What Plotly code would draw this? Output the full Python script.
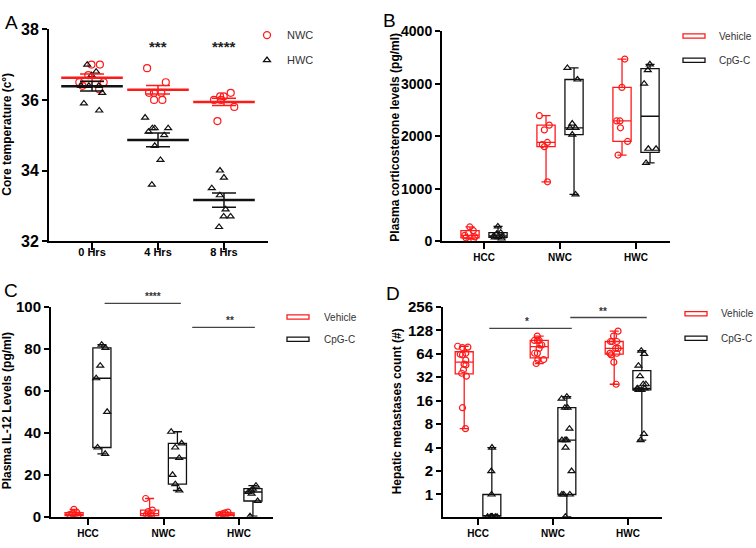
import numpy as np
import plotly.graph_objects as go

RED = "#FF1A1A"
BLACK = "#111111"
FONT = "Liberation Sans, Arial, sans-serif"

# ---------------- Panel A: core temperature ----------------
time_points = ["0 Hrs", "4 Hrs", "8 Hrs"]
nwc_0h = [37.0, 37.0, 36.7, 36.5, 36.5, 36.4, 36.3]
nwc_4h = [36.9, 36.5, 36.2, 36.2, 36.2, 36.0, 36.0]
nwc_8h = [36.2, 36.1, 36.1, 36.0, 36.0, 35.8, 35.4]
hwc_0h = [37.0, 36.8, 36.7, 36.4, 36.4, 36.4, 36.2, 35.9, 35.7]
hwc_4h = [35.5, 35.2, 35.2, 35.2, 35.1, 35.0, 34.7, 34.3, 33.6]
hwc_8h = [34.0, 33.8, 33.5, 33.3, 32.9, 32.7, 32.7, 32.4]
a_sig_labels = ["", "***", "****"]

# ---------------- Panel B: corticosterone ----------------
groups = ["HCC", "NWC", "HWC"]
treatments = ["Vehicle", "CpG-C"]
cort_hcc_veh = [270, 200, 150, 110, 80, 60, 40]
cort_hcc_cpg = [280, 160, 140, 100, 90, 70, 50]
cort_nwc_veh = [2390, 2210, 2120, 1880, 1840, 1800, 1130]
cort_nwc_cpg = [3300, 3080, 2240, 2160, 2160, 2030, 890]
cort_hwc_veh = [3470, 2930, 2290, 2290, 2160, 1900, 1640]
cort_hwc_cpg = [3370, 3260, 3000, 1760, 1760, 1490]

# ---------------- Panel C: IL-12 ----------------
il12_hcc_veh = [3.5, 2.0, 1.5, 1.0, 0.8, 0.5, 0.3]
il12_hcc_cpg = [82, 80.5, 72, 66, 50, 33, 30]
il12_nwc_veh = [8.7, 3.2, 2.5, 1.5, 1.0, 0.5, 0.3]
il12_nwc_cpg = [40.5, 35, 33, 28, 20, 15.5, 12.5]
il12_hwc_veh = [2.2, 1.8, 1.5, 1.0, 0.8, 0.5, 0.3]
il12_hwc_cpg = [14.8, 13.4, 12.5, 11.8, 11.0, 7.5, 0.3]

# ---------------- Panel D: hepatic metastases ----------------
met_hcc_veh = [80, 78, 77, 65, 63, 62, 53, 47, 46, 40, 36, 33, 13, 7]
met_hcc_cpg = [4, 2, 1, 0, 0, 0, 0, 0, 0, 0, 0]
met_nwc_veh = [108, 95, 95, 95, 83, 83, 75, 65, 65, 54, 54, 48]
met_nwc_cpg = [18, 17, 13, 13, 7, 5, 5, 5, 4, 2, 1, 1, 1, 0]
met_hwc_veh = [125, 108, 92, 92, 92, 75, 75, 65, 65, 65, 62, 50, 26]
met_hwc_cpg = [70, 64, 45, 33, 26, 26, 23, 23, 23, 22, 22, 6, 5]
met_ticks = [1, 2, 4, 8, 16, 32, 64, 128, 256]
D_FLOOR = -0.95  # log2 axis bottom, where zero counts sit


def to_log2(vals):
    v = np.asarray(vals, dtype=float)
    out = np.full(v.shape, D_FLOOR)
    pos = v > 0
    out[pos] = np.log2(v[pos])
    return out


def box_stats(datasets, transform=None):
    st = {"q1": [], "median": [], "q3": [], "lowerfence": [], "upperfence": []}
    for d in datasets:
        d = np.asarray(d, dtype=float)
        vals = [np.percentile(d, 25, method="weibull"), np.median(d),
                np.percentile(d, 75, method="weibull"), d.min(), d.max()]
        if transform is not None:
            vals = list(transform(vals))
        for k, v in zip(["q1", "median", "q3", "lowerfence", "upperfence"], vals):
            st[k].append(float(v))
    return st


fig = go.Figure()


def styled_box(datasets, xa, ya, group, color, name, transform=None):
    st = box_stats(datasets, transform)
    fig.add_trace(go.Box(
        x=groups, q1=st["q1"], median=st["median"], q3=st["q3"],
        lowerfence=st["lowerfence"], upperfence=st["upperfence"],
        xaxis=xa, yaxis=ya, offsetgroup=group, boxpoints=False,
        line=dict(color=color, width=1.3), fillcolor="rgba(0,0,0,0)",
        whiskerwidth=0.5, name=name, showlegend=False, hoverinfo="skip"))


def point_box(cats, datasets, xa, ya, group, color, symbol, jitter, size=6, transform=None):
    xs, ys = [], []
    for c, d in zip(cats, datasets):
        yv = list(transform(d)) if transform is not None else list(d)
        xs += [c] * len(yv)
        ys += yv
    fig.add_trace(go.Box(
        x=xs, y=ys, xaxis=xa, yaxis=ya, offsetgroup=group,
        boxpoints="all", jitter=jitter, pointpos=0,
        line=dict(width=0, color=color), fillcolor="rgba(0,0,0,0)",
        marker=dict(symbol=symbol, size=size, color=color, line=dict(width=1.2, color=color)),
        showlegend=False, hoverinfo="skip"))


# ---- Panel A
nwc_all = [nwc_0h, nwc_4h, nwc_8h]
hwc_all = [hwc_0h, hwc_4h, hwc_8h]
point_box(time_points, nwc_all, "x", "y", "A", RED, "circle-open", 0.95, size=7)
point_box(time_points, hwc_all, "x", "y", "A", BLACK, "triangle-up-open", 0.95, size=6)
for data, color in [(nwc_all, RED), (hwc_all, BLACK)]:
    means = [float(np.mean(d)) for d in data]
    sems = [float(np.std(d, ddof=1) / np.sqrt(len(d))) for d in data]
    fig.add_trace(go.Scatter(
        x=time_points, y=means, xaxis="x", yaxis="y", mode="markers",
        marker=dict(symbol="line-ew-open", size=44, color=color, line=dict(color=color, width=2.5)),
        error_y=dict(type="data", array=sems, color=color, thickness=1.5, width=12),
        showlegend=False, hoverinfo="skip"))
for name, color, sym, sz in [("NWC", RED, "circle-open", 7), ("HWC", BLACK, "triangle-up-open", 6)]:
    fig.add_trace(go.Scatter(
        x=[None], y=[None], xaxis="x", yaxis="y", mode="markers", name=name,
        marker=dict(symbol=sym, size=sz, color=color, line=dict(width=1.3, color=color)),
        legendgroup="A" + name, showlegend=True))

# ---- Panels B, C, D
panels = [
    ("x2", "y2", [cort_hcc_veh, cort_nwc_veh, cort_hwc_veh],
     [cort_hcc_cpg, cort_nwc_cpg, cort_hwc_cpg], None),
    ("x3", "y3", [il12_hcc_veh, il12_nwc_veh, il12_hwc_veh],
     [il12_hcc_cpg, il12_nwc_cpg, il12_hwc_cpg], None),
    ("x4", "y4", [met_hcc_veh, met_nwc_veh, met_hwc_veh],
     [met_hcc_cpg, met_nwc_cpg, met_hwc_cpg], to_log2),
]
for xa, ya, veh, cpg, tf in panels:
    point_box(groups, veh, xa, ya, "veh", RED, "circle-open", 0.75, size=6, transform=tf)
    point_box(groups, cpg, xa, ya, "cpg", BLACK, "triangle-up-open", 0.75, size=6, transform=tf)
    styled_box(veh, xa, ya, "veh", RED, treatments[0], transform=tf)
    styled_box(cpg, xa, ya, "cpg", BLACK, treatments[1], transform=tf)

W, H = 756, 548


def px_x(p):
    return p / W


def px_y(p):
    return 1 - p / H


axis_common = dict(showline=True, linewidth=2, linecolor="black", ticks="outside",
                   tickwidth=2, tickcolor="black", showgrid=False, zeroline=False,
                   fixedrange=True)
bold = dict(family=FONT, color="black", weight="bold")

# subplot geometry (pixel domains and axis ranges)
geo = {
    "x": ([49, 268], [-0.652, 2.667]),
    "x2": ([442, 670], [-0.553, 2.447]),
    "x3": ([51, 273], [-0.49, 2.45]),
    "x4": ([443, 662], [-0.467, 2.453]),
    "y": ([240, 21], [32, 38]),
    "y2": ([240, 23], [0, 4000]),
    "y3": ([525, 308], [0, 100]),
    "y4": ([525, 308], [D_FLOOR, 8]),
}


def dom_x(k):
    return [px_x(geo[k][0][0]), px_x(geo[k][0][1])]


def dom_y(k):
    return [px_y(geo[k][0][0]), px_y(geo[k][0][1])]


def to_paper(axis, v):
    (p0, p1), (r0, r1) = geo[axis]
    pix = p0 + (v - r0) / (r1 - r0) * (p1 - p0)
    return px_x(pix) if axis.startswith("x") else px_y(pix)


layout = dict(
    width=W, height=H, margin=dict(l=0, r=0, t=0, b=0),
    paper_bgcolor="white", plot_bgcolor="white",
    boxmode="group", boxgap=0.263, boxgroupgap=0.35,
    xaxis=dict(domain=dom_x("x"), anchor="y", type="category", ticklabelstandoff=-7,
               range=geo["x"][1], ticklen=7, tickfont=dict(size=11, **bold), **axis_common),
    yaxis=dict(domain=dom_y("y"), anchor="x", range=geo["y"][1],
               tickvals=[32, 34, 36, 38], ticklen=5, tickfont=dict(size=16, **bold), **axis_common),
    xaxis2=dict(domain=dom_x("x2"), anchor="y2", type="category",
                range=geo["x2"][1], ticklen=6, tickfont=dict(size=10, **bold), **axis_common),
    yaxis2=dict(domain=dom_y("y2"), anchor="x2", range=geo["y2"][1],
                tickvals=[0, 1000, 2000, 3000, 4000], ticklen=5,
                tickfont=dict(size=14, **bold), **axis_common),
    xaxis3=dict(domain=dom_x("x3"), anchor="y3", type="category",
                range=geo["x3"][1], ticklen=6, tickfont=dict(size=10, **bold), **axis_common),
    yaxis3=dict(domain=dom_y("y3"), anchor="x3", range=geo["y3"][1],
                tickvals=[0, 20, 40, 60, 80, 100], ticklen=5,
                tickfont=dict(size=15, **bold), **axis_common),
    xaxis4=dict(domain=dom_x("x4"), anchor="y4", type="category",
                range=geo["x4"][1], ticklen=6, tickfont=dict(size=10, **bold), **axis_common),
    yaxis4=dict(domain=dom_y("y4"), anchor="x4", range=geo["y4"][1],
                tickvals=list(np.log2(met_ticks)), ticktext=[str(t) for t in met_ticks],
                ticklen=5, tickfont=dict(size=15, **bold), **axis_common),
    legend=dict(x=px_x(247), y=px_y(12), xanchor="left", yanchor="top",
                bgcolor="rgba(0,0,0,0)", font=dict(family=FONT, size=11, color="#333333"),
                tracegroupgap=6, itemclick=False, itemdoubleclick=False),
)

annotations = []
shapes = []
for txt, x, y in [("A", 3, 14), ("B", 381, 12), ("C", 2, 291), ("D", 384, 294)]:
    annotations.append(dict(text=txt, x=px_x(x), y=px_y(y), xref="paper", yref="paper",
                            xanchor="left", yanchor="middle", showarrow=False,
                            font=dict(family=FONT, size=19, color="black")))
for txt, x, yc in [("Core temperature (c°)", 7, 130),
                   ("Plasma corticosterone levels (pg/ml)", 395, 132),
                   ("Plasma IL-12 Levels (pg/ml)", 7, 416),
                   ("Hepatic metastases count (#)", 397, 416)]:
    annotations.append(dict(text=txt, x=px_x(x), y=px_y(yc), xref="paper", yref="paper",
                            xanchor="center", yanchor="middle", textangle=-90, showarrow=False,
                            font=dict(family=FONT, size=12, color="black", weight="bold")))
for t, lab in zip(time_points, a_sig_labels):
    if lab:
        annotations.append(dict(text=lab, x=t, y=37.5, xref="x", yref="y", showarrow=False,
                                font=dict(family=FONT, size=15, color="#222222", weight="bold")))

# box-style legends for panels B, C, D (wide flat outlined keys as in the original)
legend_spots = [(683, 717, [28, 53]), (287, 322, [318.5, 341.5]), (685, 719, [315, 340.5])]
for kx, tx, rows in legend_spots:
    for name, color, yc in zip(treatments, [RED, BLACK], rows):
        shapes.append(dict(type="rect", xref="paper", yref="paper",
                           x0=px_x(kx), x1=px_x(kx + 22), y0=px_y(yc - 2.2), y1=px_y(yc + 2.2),
                           line=dict(color=color, width=1.3), fillcolor="white"))
        annotations.append(dict(text=name, x=px_x(tx), y=px_y(yc), xref="paper", yref="paper",
                                xanchor="left", yanchor="middle", showarrow=False,
                                font=dict(family=FONT, size=10, color="#333333")))

# significance bars (C: linear axis, D: log2 axis), placed in paper space so they are not clipped
sig_bars = [("x3", "y3", 0.22, 1.23, 101.7, "****"), ("x3", "y3", 1.38, 2.21, 90.2, "**"),
            ("x4", "y4", 0.15, 1.25, np.log2(136), "*"), ("x4", "y4", 1.23, 2.25, np.log2(187), "**")]
for xa, ya, x0, x1, yv, lab in sig_bars:
    X0, X1, Y = to_paper(xa, x0), to_paper(xa, x1), to_paper(ya, yv)
    shapes.append(dict(type="line", xref="paper", yref="paper", x0=X0, x1=X1, y0=Y, y1=Y,
                       line=dict(color="#444444", width=1.3)))
    annotations.append(dict(text=lab, x=(X0 + X1) / 2, y=Y, xref="paper", yref="paper",
                            showarrow=False, yanchor="bottom", yshift=-1,
                            font=dict(family=FONT, size=10, color="#333333", weight="bold")))

layout["annotations"] = annotations
layout["shapes"] = shapes
fig.update_layout(**layout)
fig.write_html("out.html", config={"displayModeBar": False},
               post_script="document.body.style.margin='0';document.body.style.overflow='hidden';")
